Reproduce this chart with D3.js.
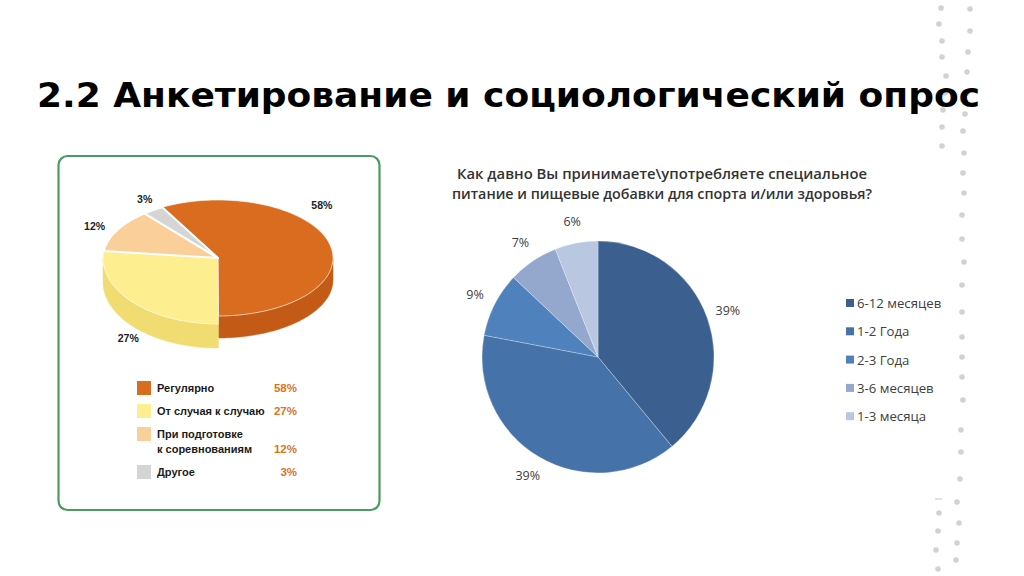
<!DOCTYPE html>
<html><head><meta charset="utf-8">
<script src="https://cdn.jsdelivr.net/npm/d3@7"></script>
<style>body{margin:0;background:#fff;}svg{display:block;}</style>
</head><body>
<svg id="c" width="1024" height="576"></svg>
<script>
// ---------- data ----------
const titleText = "2.2 Анкетирование и социологический опрос";

const leftCategories = [["Регулярно"], ["От случая к случаю"], ["При подготовке", "к соревнованиям"], ["Другое"]];
const leftValues = [58, 27, 12, 3];
const leftLabels = ["58%", "27%", "12%", "3%"];

const rightTitleLines = ["Как давно Вы принимаете\\употребляете специальное", "питание и пищевые добавки  для спорта и/или здоровья?"];
const rightCategories = ["6-12 месяцев", "1-2 Года", "2-3 Года", "3-6 месяцев", "1-3 месяца"];
const rightValues = [39, 39, 9, 7, 6];
const rightLabels = ["39%", "39%", "9%", "7%", "6%"];

// ---------- styles ----------
const leftTopColors = ["#d96c1f", "#fdef8f", "#fbcf99", "#d5d5d5"];
const leftSideColors = ["#c35b17", "#f1dc72", "#efbd80", "#bcbcbc"];
const rightColors = ["#3b5f8f", "#4573a9", "#4f81bd", "#94a8cd", "#b9c7e0"];

// decorative dots (right edge of slide)
const decoDots = [
  [941,8],[939,24],[942,41],[942,57],[946,76],[945,93],[943,110],[942,127],[942,146],
  [970,9],[970,31],[968,52],[967,72],[967,93],[965,114],[963,131],[964,153],[963,173],[964,193],
  [962,215],[962,239],[964,262],[962,285],[962,312],[962,337],[962,357],[962,377],[963,400],
  [961,430],[961,452],[960,479],[957,502],[959,523],[957,543],[956,560],
  [939,513],[938,531],[936,550],[938,569]
];

const svg = d3.select("#c");
svg.append("rect").attr("width",1024).attr("height",576).attr("fill","#fff");

// decoration
svg.append("g").selectAll("circle").data(decoDots).join("circle")
  .attr("cx", d=>d[0]).attr("cy", d=>d[1]).attr("r", 2.8).attr("fill", "#d2d2d2");
svg.append("line").attr("x1",935).attr("x2",942).attr("y1",499).attr("y2",499)
  .attr("stroke","#cfcfcf").attr("stroke-width",1.2);

// title
svg.append("text").attr("x", 37).attr("y", 107)
  .attr("font-family", "DejaVu Sans").attr("font-weight", "bold").attr("font-size", 33.5)
  .attr("textLength", 943).attr("lengthAdjust", "spacingAndGlyphs")
  .attr("fill", "#000").text(titleText);

// ---------- left panel ----------
svg.append("rect").attr("x", 58.5).attr("y", 156).attr("width", 321).attr("height", 354)
  .attr("rx", 9).attr("fill", "#fff").attr("stroke", "#4b9a62").attr("stroke-width", 2.2);

const cxL = 218, cyL = 258, rxL = 115;
const ryL = [58, 66, 58, 58];
const depthL = [22, 24, 22, 22];
const startL = -29 * Math.PI / 180;
const pieL = d3.pie().sort(null).value(d => d).startAngle(startL).endAngle(startL + 2 * Math.PI);
const arcsL = pieL(leftValues);

function ept(a, ry, dy) { return [cxL + rxL * Math.sin(a), cyL - ry * Math.cos(a) + (dy || 0)]; }

function topPath(s, i) {
  const p = d3.path();
  p.moveTo(cxL, cyL);
  const n = 80;
  for (let k = 0; k <= n; k++) {
    const a = s.startAngle + (s.endAngle - s.startAngle) * k / n;
    const q = ept(a, ryL[i]);
    p.lineTo(q[0], q[1]);
  }
  p.closePath();
  return p.toString();
}
function sidePath(s, i) {
  const a0 = Math.max(s.startAngle, Math.PI / 2), a1 = Math.min(s.endAngle, 3 * Math.PI / 2);
  if (a1 <= a0) return null;
  const p = d3.path(); const n = 60;
  for (let k = 0; k <= n; k++) {
    const a = a0 + (a1 - a0) * k / n; const q = ept(a, ryL[i]);
    if (k === 0) p.moveTo(q[0], q[1]); else p.lineTo(q[0], q[1]);
  }
  for (let k = n; k >= 0; k--) {
    const a = a0 + (a1 - a0) * k / n; const q = ept(a, ryL[i], depthL[i]);
    p.lineTo(q[0], q[1]);
  }
  p.closePath();
  return p.toString();
}

const gL = svg.append("g");
gL.selectAll("path.side").data(arcsL).join("path").attr("class", "side")
  .attr("d", (d, i) => sidePath(d, i)).attr("fill", (d, i) => leftSideColors[i])
  .attr("stroke", (d, i) => leftSideColors[i]).attr("stroke-width", 0.5);
gL.selectAll("path.top").data(arcsL).join("path").attr("class", "top")
  .attr("d", (d, i) => topPath(d, i)).attr("fill", (d, i) => leftTopColors[i])
  .attr("stroke", "#fff").attr("stroke-width", (d, i) => i >= 2 ? 2 : 0.6).attr("stroke-linejoin", "round");

// labels placed on a label ellipse around each slice's mid-angle, with nudges
const labelEllipse = { rx: 128, ry: 66 };
const labelNudge = [[-20, -36], [6, 36], [-11, 0], [-1, -5]];
gL.selectAll("text.pl").data(arcsL).join("text").attr("class", "pl")
  .attr("x", (d, i) => cxL + labelEllipse.rx * Math.sin((d.startAngle + d.endAngle) / 2) + labelNudge[i][0])
  .attr("y", (d, i) => cyL - labelEllipse.ry * Math.cos((d.startAngle + d.endAngle) / 2) + labelNudge[i][1])
  .attr("text-anchor", "middle").attr("dominant-baseline", "central")
  .attr("font-family", "Liberation Sans, Arial, sans-serif").attr("font-weight", "bold")
  .attr("font-size", 10.5).attr("fill", "#222").text((d, i) => leftLabels[i]);

// left legend
const legL = svg.append("g");
let extra = 0;
leftCategories.forEach((lines, i) => {
  const y = 388 + 23 * i + 15 * extra;
  legL.append("rect").attr("x", 137).attr("y", y - 7).attr("width", 14).attr("height", 14)
    .attr("fill", leftTopColors[i]);
  lines.forEach((ln, j) => {
    legL.append("text").attr("x", 157).attr("y", y + 15 * j).attr("dominant-baseline", "central")
      .attr("font-family", "Liberation Sans, Arial, sans-serif").attr("font-weight", "bold")
      .attr("font-size", 11).attr("fill", "#1a1a1a").text(ln);
  });
  legL.append("text").attr("x", 297).attr("y", y + 15 * (lines.length - 1)).attr("dominant-baseline", "central")
    .attr("text-anchor", "end")
    .attr("font-family", "Liberation Sans, Arial, sans-serif").attr("font-weight", "bold")
    .attr("font-size", 11.5).attr("fill", "#db7322").text(leftLabels[i]);
  extra += lines.length - 1;
});

// ---------- right chart ----------
const rightTitleWidths = [410, 420];
svg.append("g").selectAll("text").data(rightTitleLines).join("text")
  .attr("x", 662).attr("y", (d, i) => 173 + 20 * i).attr("dominant-baseline", "central")
  .attr("text-anchor", "middle").attr("font-family", "Open Sans, Noto Sans, sans-serif")
  .attr("font-weight", 600).attr("font-size", 14)
  .attr("textLength", (d, i) => rightTitleWidths[i]).attr("lengthAdjust", "spacingAndGlyphs")
  .attr("fill", "#333").text(d => d);

const cxR = 598, cyR = 357, rR = 116;
const pieR = d3.pie().sort(null).value(d => d);
const arcsR = pieR(rightValues);
const arcR = d3.arc().innerRadius(0).outerRadius(rR);
const labArc = d3.arc().innerRadius(138).outerRadius(138);
const gR = svg.append("g").attr("transform", `translate(${cxR},${cyR})`);
gR.selectAll("path").data(arcsR).join("path").attr("d", arcR)
  .attr("fill", (d, i) => rightColors[i]).attr("stroke", "rgba(255,255,255,0.35)").attr("stroke-width", 0.8);
gR.selectAll("text").data(arcsR).join("text")
  .attr("transform", d => `translate(${labArc.centroid(d)})`)
  .attr("text-anchor", "middle").attr("dominant-baseline", "central")
  .attr("font-family", "Open Sans, Noto Sans, sans-serif").attr("font-size", 12.5)
  .attr("fill", "#404040").text((d, i) => rightLabels[i]);

// right legend
const legR = svg.append("g");
rightCategories.forEach((c, i) => {
  const y = 303 + 28.3 * i;
  legR.append("rect").attr("x", 846).attr("y", y - 4).attr("width", 8).attr("height", 8).attr("fill", rightColors[i]);
  legR.append("text").attr("x", 857).attr("y", y).attr("dominant-baseline", "central")
    .attr("font-family", "Open Sans, Noto Sans, sans-serif").attr("font-size", 13.2)
    .attr("fill", "#404040").text(c);
});
</script>
</body></html>
